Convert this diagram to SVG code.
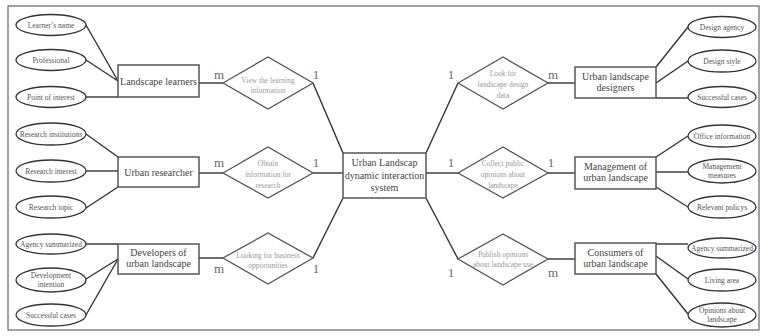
<svg xmlns="http://www.w3.org/2000/svg" width="762" height="336" viewBox="0 0 762 336">
<style>
text{font-family:"Liberation Serif","DejaVu Serif",serif;text-anchor:middle}
.ell{fill:#fff;stroke:#333;stroke-width:1.3}
.ent{fill:#fff;stroke:#555;stroke-width:1.5}
.dia{fill:#fff;stroke:#555;stroke-width:1.3}
.et{font-size:7.5px;fill:#555}
.rt{font-size:10px;fill:#444}
.dt{font-size:7.5px;fill:#999}
.lab{font-size:13px;fill:#666}
.con line{stroke:#333;stroke-width:1.4;fill:none}
</style>
<rect x="0" y="0" width="762" height="336" fill="#fff"/>
<rect x="8" y="6" width="751" height="324" fill="none" stroke="#666" stroke-width="1.2"/>

<g class="con">
<line x1="86" y1="25" x2="118" y2="81"/>
<line x1="86" y1="60" x2="118" y2="81"/>
<line x1="86" y1="97" x2="118" y2="97"/>
<line x1="199" y1="83" x2="223" y2="83"/>
<line x1="313" y1="83" x2="343" y2="153"/>
<line x1="86" y1="134" x2="118" y2="157"/>
<line x1="86" y1="171" x2="118" y2="171"/>
<line x1="86" y1="208" x2="118" y2="187"/>
<line x1="199" y1="173" x2="223" y2="173"/>
<line x1="313" y1="173" x2="343" y2="173"/>
<line x1="86" y1="244" x2="118" y2="244"/>
<line x1="86" y1="279" x2="118" y2="259"/>
<line x1="86" y1="315" x2="118" y2="259"/>
<line x1="199" y1="258" x2="223" y2="258"/>
<line x1="313" y1="258" x2="343" y2="198"/>
<line x1="426" y1="153" x2="458" y2="83"/>
<line x1="548" y1="83" x2="575" y2="83"/>
<line x1="656" y1="67" x2="688" y2="27"/>
<line x1="656" y1="83" x2="688" y2="61"/>
<line x1="656" y1="98" x2="688" y2="98"/>
<line x1="426" y1="173" x2="458" y2="173"/>
<line x1="548" y1="173" x2="575" y2="173"/>
<line x1="656" y1="157" x2="688" y2="136"/>
<line x1="656" y1="172" x2="688" y2="172"/>
<line x1="656" y1="187" x2="688" y2="207"/>
<line x1="426" y1="198" x2="458" y2="259"/>
<line x1="548" y1="259" x2="575" y2="259"/>
<line x1="656" y1="244" x2="688" y2="244"/>
<line x1="656" y1="256" x2="688" y2="279"/>
<line x1="656" y1="274" x2="688" y2="314"/>
</g>

<g id="center"><rect class="ent" x="343" y="153" width="83" height="45"/>
<text class="rt" x="384.5" y="166">Urban Landscap</text>
<text class="rt" x="384.5" y="178.5">dynamic interaction</text>
<text class="rt" x="384.5" y="191">system</text></g>

<g id="learners"><rect class="ent" x="118" y="65" width="81" height="32"/>
<text class="rt" x="158.5" y="84.5">Landscape learners</text></g>
<g id="researcher"><rect class="ent" x="118" y="157" width="81" height="30"/>
<text class="rt" x="158.5" y="175.5">Urban researcher</text></g>
<g id="developers"><rect class="ent" x="118" y="244" width="81" height="30"/>
<text class="rt" x="158.5" y="256">Developers of</text>
<text class="rt" x="158.5" y="267">urban landscape</text></g>
<g id="designers"><rect class="ent" x="575" y="67" width="81" height="31"/>
<text class="rt" x="615.5" y="80">Urban landscape</text>
<text class="rt" x="615.5" y="91">designers</text></g>
<g id="management"><rect class="ent" x="575" y="157" width="81" height="32"/>
<text class="rt" x="615.5" y="170">Management of</text>
<text class="rt" x="615.5" y="181">urban landscape</text></g>
<g id="consumers"><rect class="ent" x="575" y="243" width="81" height="31"/>
<text class="rt" x="615.5" y="256">Consumers of</text>
<text class="rt" x="615.5" y="267">urban landscape</text></g>

<g id="d1"><polygon class="dia" points="223,83 268,57 313,83 268,109"/>
<text class="dt" x="268" y="83">View the learning</text>
<text class="dt" x="268" y="93">information</text></g>
<g id="d2"><polygon class="dia" points="223,173 268,147 313,173 268,198"/>
<text class="dt" x="268" y="166">Obtain</text>
<text class="dt" x="268" y="177">information for</text>
<text class="dt" x="268" y="188">research</text></g>
<g id="d3"><polygon class="dia" points="223,258 268,233 313,258 268,284"/>
<text class="dt" x="268" y="258">Looking for business</text>
<text class="dt" x="268" y="268">opportunities</text></g>
<g id="d4"><polygon class="dia" points="458,83 503,57 548,83 503,109"/>
<text class="dt" x="503" y="76">Look for</text>
<text class="dt" x="503" y="87">landscape design</text>
<text class="dt" x="503" y="98">data</text></g>
<g id="d5"><polygon class="dia" points="458,173 503,147 548,173 503,198"/>
<text class="dt" x="503" y="166">Collect public</text>
<text class="dt" x="503" y="177">opinions about</text>
<text class="dt" x="503" y="188">landscape</text></g>
<g id="d6"><polygon class="dia" points="458,259 503,234 548,259 503,285"/>
<text class="dt" x="503" y="257">Publish opinions</text>
<text class="dt" x="503" y="267">about landscape use</text></g>

<g id="labels">
<text class="lab" x="219" y="79">m</text>
<text class="lab" x="316" y="79">1</text>
<text class="lab" x="219" y="167">m</text>
<text class="lab" x="316" y="167">1</text>
<text class="lab" x="219" y="273">m</text>
<text class="lab" x="316" y="273">1</text>
<text class="lab" x="451" y="79">1</text>
<text class="lab" x="553" y="79">m</text>
<text class="lab" x="451" y="167">1</text>
<text class="lab" x="551" y="167">1</text>
<text class="lab" x="451" y="277">1</text>
<text class="lab" x="553" y="277">m</text>
</g>

<g id="a1"><ellipse class="ell" cx="51" cy="25" rx="35" ry="10.5"/><text class="et" x="51" y="27.5">Learner’s name</text></g>
<g id="a2"><ellipse class="ell" cx="51" cy="60" rx="35" ry="10.5"/><text class="et" x="51" y="62.5">Professional</text></g>
<g id="a3"><ellipse class="ell" cx="51" cy="97" rx="35" ry="10.5"/><text class="et" x="51" y="99.5">Point of interest</text></g>
<g id="a4"><ellipse class="ell" cx="51" cy="134" rx="35" ry="11"/><text class="et" x="51" y="136.5">Research institutions</text></g>
<g id="a5"><ellipse class="ell" cx="51" cy="171" rx="35" ry="11"/><text class="et" x="51" y="173.5">Research interest</text></g>
<g id="a6"><ellipse class="ell" cx="51" cy="207" rx="35" ry="11"/><text class="et" x="51" y="209.5">Research topic</text></g>
<g id="a7"><ellipse class="ell" cx="51" cy="244" rx="35" ry="10"/><text class="et" x="51" y="246.5">Agency summarized</text></g>
<g id="a8"><ellipse class="ell" cx="51" cy="280" rx="35" ry="12"/><text class="et" x="51" y="277.5">Development</text><text class="et" x="51" y="287">intention</text></g>
<g id="a9"><ellipse class="ell" cx="51" cy="315" rx="35" ry="11"/><text class="et" x="51" y="317.5">Successful cases</text></g>

<g id="b1"><ellipse class="ell" cx="722" cy="27" rx="34" ry="10.5"/><text class="et" x="722" y="29.5">Design agency</text></g>
<g id="b2"><ellipse class="ell" cx="722" cy="61" rx="34" ry="11"/><text class="et" x="722" y="63.5">Design style</text></g>
<g id="b3"><ellipse class="ell" cx="722" cy="97" rx="34" ry="10.5"/><text class="et" x="722" y="99.5">Successful cases</text></g>
<g id="b4"><ellipse class="ell" cx="722" cy="136" rx="34" ry="11"/><text class="et" x="722" y="138.5">Office information</text></g>
<g id="b5"><ellipse class="ell" cx="722" cy="171" rx="34" ry="12"/><text class="et" x="722" y="168.5">Management</text><text class="et" x="722" y="178">measures</text></g>
<g id="b6"><ellipse class="ell" cx="722" cy="207" rx="34" ry="11"/><text class="et" x="722" y="209.5">Relevant policys</text></g>
<g id="b7"><ellipse class="ell" cx="722" cy="248" rx="34" ry="10"/><text class="et" x="722" y="250.5">Agency summarized</text></g>
<g id="b8"><ellipse class="ell" cx="722" cy="280" rx="34" ry="11"/><text class="et" x="722" y="282.5">Living area</text></g>
<g id="b9"><ellipse class="ell" cx="722" cy="315" rx="34" ry="12"/><text class="et" x="722" y="312.5">Opinions about</text><text class="et" x="722" y="322">landscape</text></g>
</svg>
